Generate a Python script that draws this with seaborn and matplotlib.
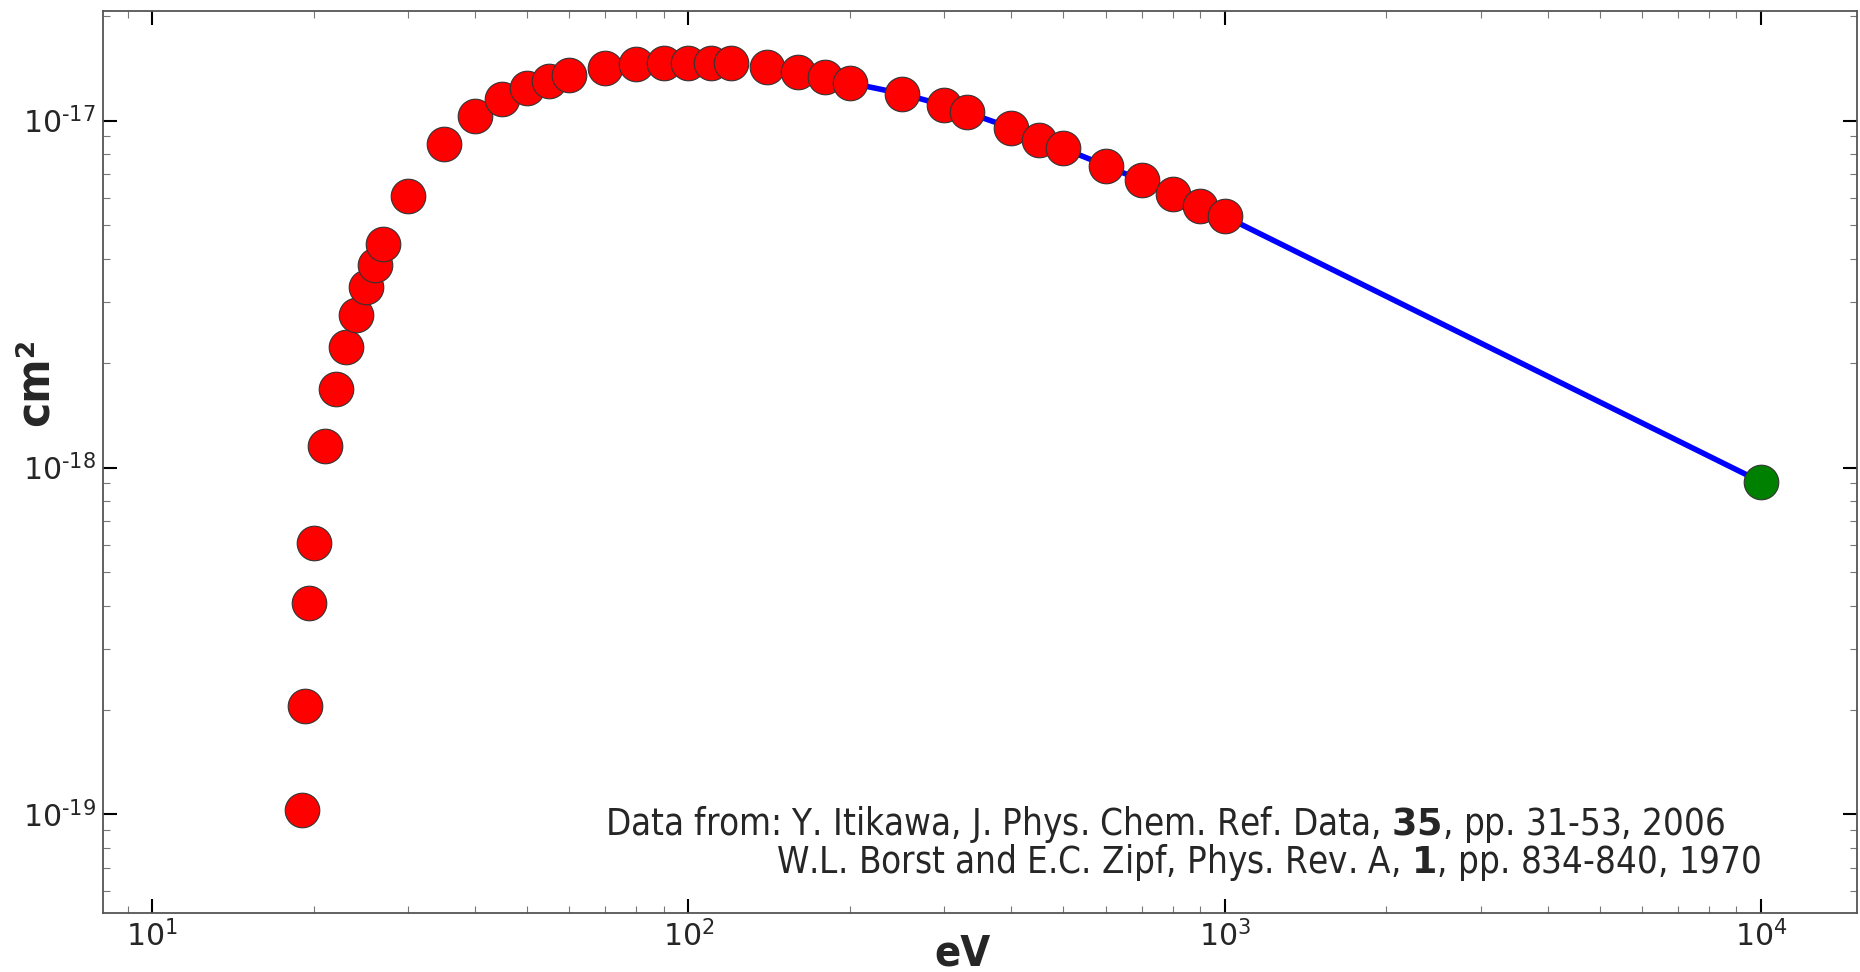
import matplotlib as mpl
mpl.use("Agg")
import matplotlib.pyplot as plt
import matplotlib.ticker as mticker
import seaborn as sns
import numpy as np
import pandas as pd

# measured points (eV, cm^2)
energy = [19.05, 19.3, 19.6, 20, 21, 22, 23, 24, 25, 26, 27, 30, 35, 40, 45,
          50, 55, 60, 70, 80, 90, 100, 110, 120, 140, 160, 180, 200, 250,
          300, 330, 400, 450, 500, 600, 700, 800, 900, 1000]
sigma = [1.03e-19, 2.05e-19, 4.07e-19, 6.06e-19, 1.15e-18, 1.68e-18,
         2.22e-18, 2.76e-18, 3.31e-18, 3.84e-18, 4.41e-18, 6.07e-18,
         8.57e-18, 1.03e-17, 1.157e-17, 1.24e-17, 1.30e-17, 1.353e-17,
         1.416e-17, 1.453e-17, 1.462e-17, 1.47e-17, 1.47e-17, 1.462e-17,
         1.43e-17, 1.38e-17, 1.335e-17, 1.284e-17, 1.196e-17, 1.107e-17,
         1.057e-17, 9.53e-18, 8.8e-18, 8.31e-18, 7.42e-18, 6.72e-18,
         6.15e-18, 5.68e-18, 5.3e-18]

# extrapolated point
extra_energy = [10000]
extra_sigma = [9.09e-19]

fit_start = 200  # blue line starts here

sns.set_style("ticks")
plt.rcParams["font.family"] = ["DejaVu Sans"]
plt.rcParams["axes.unicode_minus"] = False
plt.rcParams["mathtext.fontset"] = "dejavusans"

df = pd.DataFrame({"energy": energy, "sigma": sigma})
df_extra = pd.DataFrame({"energy": extra_energy, "sigma": extra_sigma})
df_fit = pd.concat([df[df["energy"] >= fit_start], df_extra], ignore_index=True)

fig = plt.figure(figsize=(18.6, 9.72), dpi=100)
ax = fig.add_axes([0.0554, 0.0607, 0.943, 0.928])

sns.lineplot(data=df_fit, x="energy", y="sigma", ax=ax, color="blue",
             linewidth=4, sort=False, zorder=1)
sns.scatterplot(data=df, x="energy", y="sigma", ax=ax, color="red",
                s=620, edgecolor="#333333", linewidth=0.8, zorder=2)
sns.scatterplot(data=df_extra, x="energy", y="sigma", ax=ax, color="green",
                s=620, edgecolor="#333333", linewidth=0.8, zorder=3)

ax.set_xscale("log")
ax.set_yscale("log")
ax.set_xlim(8.1, 15100)
ax.set_ylim(5.2e-20, 2.07e-17)


def pow10(v, pos):
    # 10^n with a plain hyphen, like the original
    n = int(round(np.log10(v)))
    s = str(n).replace("-", r"\text{-}")
    return r"$10^{%s}$" % s


ax.xaxis.set_major_formatter(mticker.FuncFormatter(pow10))
ax.yaxis.set_major_formatter(mticker.FuncFormatter(pow10))

for sp in ax.spines.values():
    sp.set_color("#555555")
    sp.set_linewidth(1.3)

ax.tick_params(which="both", direction="in", top=True, right=True)
ax.tick_params(which="major", length=10, width=1.5, color="black",
               labelsize=21.5, pad=5)
ax.tick_params(which="minor", length=5, width=0.8, color="#777777")

ax.set_xlabel("eV", fontsize=31, fontweight="bold", fontstretch="condensed")
ax.set_ylabel("cm²", fontsize=34, fontweight="bold", fontstretch="condensed")
ax.xaxis.set_label_coords(0.49, -0.022)
ax.yaxis.set_label_coords(-0.0257, 0.589)

ax.text(0.9247, 0.0865,
        r"Data from: Y. Itikawa, J. Phys. Chem. Ref. Data, $\mathbf{35}$, pp. 31-53, 2006",
        transform=ax.transAxes, ha="right", va="baseline", fontsize=26.3,
        fontstretch="condensed")
ax.text(0.9453, 0.0443,
        r"W.L. Borst and E.C. Zipf, Phys. Rev. A, $\mathbf{1}$, pp. 834-840, 1970",
        transform=ax.transAxes, ha="right", va="baseline", fontsize=26.3,
        fontstretch="condensed")

fig.savefig("out.png", dpi=100)
